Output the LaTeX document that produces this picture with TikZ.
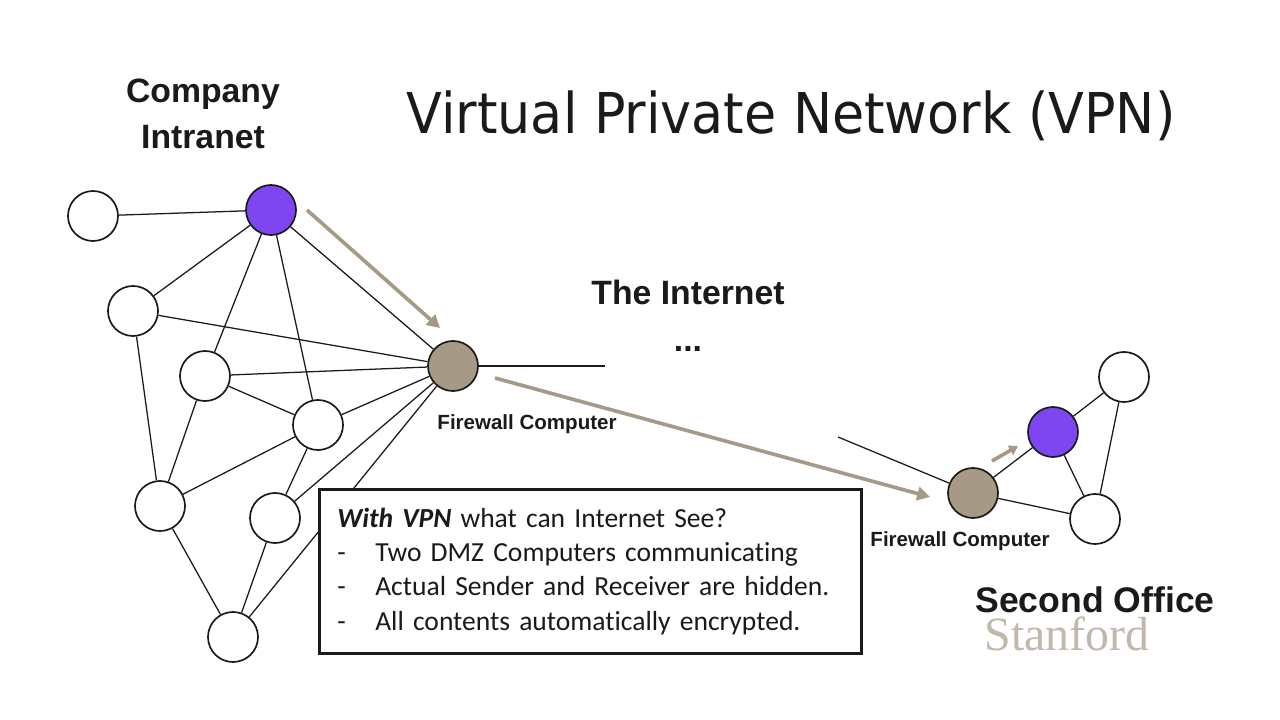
\documentclass[tikz,border=0pt]{standalone}
\usepackage{fontspec}
\usepackage{xcolor}
\usepackage{tikz}
\usetikzlibrary{arrows.meta,positioning}
\setmainfont{Liberation Sans}
\newfontfamily\titlefont[FakeStretch=0.93]{DejaVu Sans}
\newfontfamily\boxfont[Ligatures=NoCommon]{Carlito}
\newfontfamily\logofont{Liberation Serif}
\definecolor{vpnpurple}{HTML}{7E46F0}
\definecolor{vpntan}{HTML}{A69A86}
\definecolor{vpnink}{HTML}{1A1A1A}

\begin{document}
\begin{tikzpicture}[x=0.025cm,y=-0.025cm,
  host/.style={circle,draw=vpnink,line width=1.2pt,fill=white,minimum size=1.25cm,inner sep=0pt},
  sender/.style={host,fill=vpnpurple},
  wall/.style={host,fill=vpntan},
  link/.style={draw=vpnink,line width=0.9pt},
  flow/.style={-{Triangle[length=3.2mm,width=3.4mm]},draw=vpntan,line width=2.6pt},
  head/.style={font=\bfseries\fontsize{24}{27}\selectfont,text=vpnink,align=center,inner sep=0pt},
  wlab/.style={font=\bfseries\fontsize{14.6}{16}\selectfont,text=vpnink,inner sep=0pt}]
\useasboundingbox (0,0) rectangle (1280,720);
% company intranet
\node[host]   (h0) at (93,216)  {};
\node[sender] (pa) at (271,210) {};
\node[host]   (h1) at (133,311) {};
\node[host]   (h2) at (205,376) {};
\node[host]   (h3) at (318,425) {};
\node[host]   (h4) at (160,506) {};
\node[host]   (h5) at (275,518) {};
\node[host]   (h6) at (233,637) {};
\node[wall]   (fa) at (453,366) {};
% second office
\node[wall]   (fb) at (973,493) {};
\node[sender] (pb) at (1053,432) {};
\node[host]   (h7) at (1124,377) {};
\node[host]   (h8) at (1095,519) {};
% loose ends into the internet
\coordinate (inetl) at (605,366);
\coordinate (inetr) at (838,437);
% links
\foreach \a/\b in {h0/pa,pa/h1,pa/h2,pa/h3,pa/fa,h1/fa,h1/h4,h2/fa,h2/h3,h2/h4,
                   h3/fa,h3/h4,h3/h5,h5/fa,h6/fa,h5/h6,h4/h6,
                   fb/pb,fb/h8,pb/h7,pb/h8,h7/h8}
  \draw[link] (\a) -- (\b);
\draw[link] (fa) -- (inetl);
\draw[link] (inetr) -- (fb);
% tunnel arrows
\coordinate (f1s) at (307,210);
\coordinate (f1e) at (440,328);
\coordinate (f2s) at (495,378);
\coordinate (f2e) at (930,497);
\coordinate (f3s) at (992,461);
\coordinate (f3e) at (1018,446);
\draw[flow] (f1s) -- (f1e);
\draw[flow] (f2s) -- (f2e);
\draw[flow,-{Triangle[length=2.2mm,width=2.6mm]}] (f3s) -- (f3e);
% labels
\node[head] (corp) at (203,114) {Company\\[6pt]Intranet};
\node[font=\titlefont\fontsize{40}{44}\selectfont,text=vpnink,inner sep=0pt] (title) at (791,116) {Virtual Private Network (VPN)};
\node[head] (inet) at (688,292) {The Internet};
\node[head] (dots) at (688,349) {...};
\node[wlab] (fwa) at (527,424) {Firewall Computer};
\node[wlab] (fwb) at (960,541) {Firewall Computer};
\node[head,font=\bfseries\fontsize{25.3}{28}\selectfont] (office) at (1095,600) {Second Office};
\node[font=\logofont\fontsize{34}{36}\selectfont,text=vpntan!70,inner sep=0pt] (logo) at (1067,634) {Stanford};
% what the internet sees
\node[draw=vpnink,line width=1.8pt,fill=white,anchor=north west,minimum width=13.55cm,minimum height=4.1cm,
      text width=12.65cm,inner xsep=0.45cm,align=left,font=\boxfont\fontsize{19.6}{24.5}\selectfont,text=vpnink] (seebox) at (318,488)
  {\hyphenpenalty=10000 \textbf{\textit{With VPN}} what can Internet See?\\
   \makebox[0.95cm][l]{-}Two DMZ Computers communicating\\
   \makebox[0.95cm][l]{-}Actual Sender and Receiver are hidden.\\
   \makebox[0.95cm][l]{-}All contents automatically encrypted.};
\end{tikzpicture}
\end{document}
